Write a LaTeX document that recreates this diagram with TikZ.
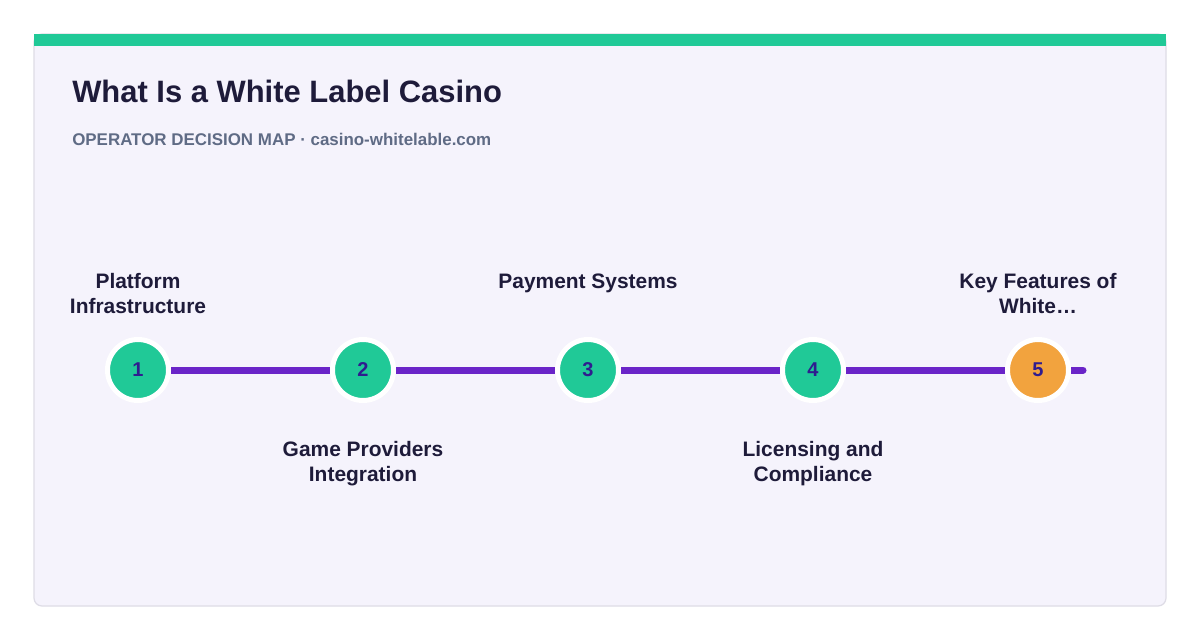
\documentclass[tikz,border=0pt]{standalone}
\usepackage{fontspec}
\setmainfont{Liberation Sans}
\usetikzlibrary{positioning,backgrounds}

\definecolor{mint}{HTML}{20C997}
\definecolor{amber}{HTML}{F2A33E}
\definecolor{violet}{HTML}{6A24C8}
\definecolor{ink}{HTML}{1E1B3A}
\definecolor{numink}{HTML}{2F1C8F}
\definecolor{slate}{HTML}{5F6B85}
\definecolor{cardbg}{HTML}{F5F3FC}
\definecolor{cardline}{HTML}{DEDCE6}

\begin{document}
\begin{tikzpicture}[x=0.75pt, y=-0.75pt,
    stepdot/.style={circle, fill=mint, draw=white, line width=3.75pt, minimum size=45.75pt, inner sep=0pt,
      text=numink, font=\fontsize{15}{17}\selectfont\bfseries},
    lastdot/.style={stepdot, fill=amber},
    steplbl/.style={anchor=base, align=center, text=ink, inner sep=0pt, font=\fontsize{15.7}{18.75}\selectfont\bfseries},
    track/.style={violet, line width=5.25pt, line cap=round}
]
\useasboundingbox (0,0) rectangle (1200,640);

\node[anchor=base west, inner sep=0pt, text=ink, font=\fontsize{23.2}{27}\selectfont\bfseries] (title) at (72,102) {What Is a White Label Casino};
\node[anchor=base west, inner sep=0pt, text=slate, font=\fontsize{12.7}{15}\selectfont\bfseries] (sub) at (72,145) {OPERATOR DECISION MAP · casino-whitelable.com};

\node[stepdot] (s1) at (138,370) {1};
\node[stepdot] (s2) at (363,370) {2};
\node[stepdot] (s3) at (588,370) {3};
\node[stepdot] (s4) at (813,370) {4};
\node[lastdot] (s5) at (1038,370) {5};
\coordinate (tend) at (1083,370);

% base = last line
\node[steplbl] (l1) at (138,313) {Platform\\Infrastructure};
\node[steplbl] (l2) at (363,481) {Game Providers\\Integration};
\node[steplbl] (l3) at (588,288) {Payment Systems};
\node[steplbl] (l4) at (813,481) {Licensing and\\Compliance};
\node[steplbl] (l5) at (1038,313) {Key Features of\\White…};

\begin{scope}[on background layer]
\fill[white] (0,0) rectangle (1200,640);
\filldraw[fill=cardbg, draw=cardline, line width=0.9pt, rounded corners=6pt] (34,34) rectangle (1166,606);
\fill[mint] (34,34) rectangle (1166,46);
\draw[track] (s1.center) -- (tend);
\end{scope}
\end{tikzpicture}
\end{document}
